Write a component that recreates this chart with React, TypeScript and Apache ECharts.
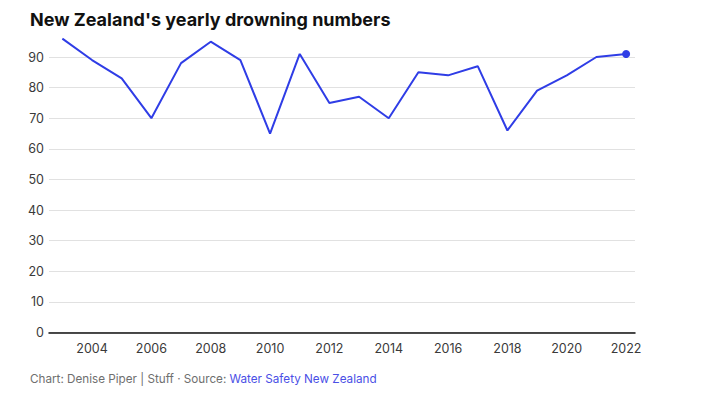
import React, { useEffect, useRef } from "react";
import * as echarts from "echarts";

const years = [2003, 2004, 2005, 2006, 2007, 2008, 2009, 2010, 2011, 2012, 2013, 2014, 2015, 2016, 2017, 2018, 2019, 2020, 2021, 2022];
const drownings = [96, 89, 83, 70, 88, 95, 89, 65, 91, 75, 77, 70, 85, 84, 87, 66, 79, 84, 90, 91];
const xTickLabels = [2004, 2006, 2008, 2010, 2012, 2014, 2016, 2018, 2020, 2022];

const FONT = "Inter, 'Noto Sans', sans-serif";
const BLUE = "#2f3de6";

export default function App() {
  const ref = useRef<HTMLDivElement>(null);
  useEffect(() => {
    if (!ref.current) return;
    const chart = echarts.init(ref.current, null, { renderer: "svg" });
    const data = years.map((y, i) => {
      const item: any = { value: [y, drownings[i]] };
      if (i === years.length - 1) {
        item.symbol = "circle";
        item.symbolSize = 8;
      }
      return item;
    });
    chart.setOption({
      animation: false,
      backgroundColor: "#ffffff",
      title: {
        text: "New Zealand's yearly drowning numbers",
        left: 25,
        top: 5,
        textStyle: { fontFamily: FONT, fontSize: 18, fontWeight: "bold", color: "#111111" },
      },
      grid: { left: 49, right: 66, top: 57, bottom: 60.5, containLabel: false },
      xAxis: {
        type: "value",
        min: 2002.55,
        max: 2022.3,
        axisLine: { show: true, lineStyle: { color: "#111111", width: 1.5 } },
        axisTick: { show: false },
        splitLine: { show: false },
        axisLabel: {
          customValues: xTickLabels,
          color: "#3a3a3a",
          fontFamily: FONT,
          fontSize: 12.5,
          margin: 9,
          formatter: (v: number) => String(v),
        },
      },
      yAxis: {
        type: "value",
        min: 0,
        max: 90,
        interval: 10,
        axisLine: { show: false },
        axisTick: { show: false },
        splitLine: { show: true, lineStyle: { color: "#e1e1e1", width: 1 } },
        axisLabel: { color: "#3a3a3a", fontFamily: FONT, fontSize: 12.5, margin: 5 },
      },
      series: [
        {
          type: "line",
          data,
          symbol: "none",
          clip: false,
          lineStyle: { color: BLUE, width: 2 },
          itemStyle: { color: BLUE },
        },
      ],
      graphic: [
        {
          type: "text",
          left: 30,
          top: 373,
          style: {
            text: "{a|Chart: Denise Piper | Stuff · Source: }{b|Water Safety New Zealand}",
            rich: {
              a: { fill: "#6f6f6f", fontFamily: FONT, fontSize: 11.7 },
              b: { fill: "#4a4fe6", fontFamily: FONT, fontSize: 11.7 },
            },
          },
        },
      ],
    });
    return () => chart.dispose();
  }, []);
  return <div ref={ref} style={{ position: "fixed", left: 0, top: 0, width: 701, height: 393 }} />;
}
